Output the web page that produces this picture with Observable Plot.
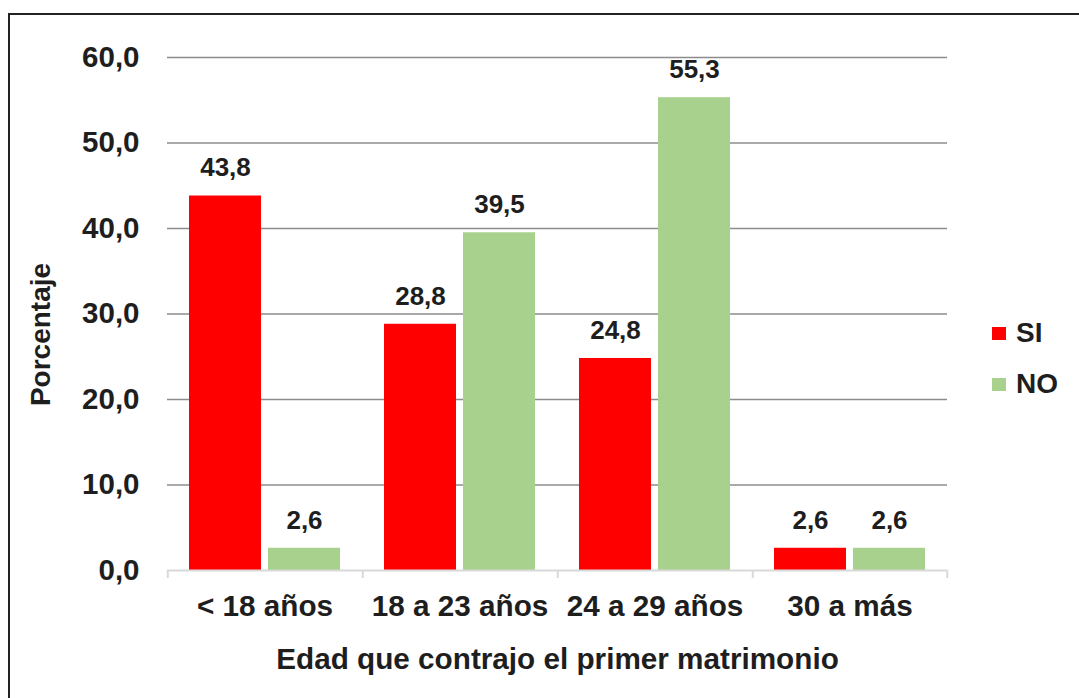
<!DOCTYPE html>
<html><head><meta charset="utf-8">
<script src="https://cdn.jsdelivr.net/npm/d3@7"></script>
<script src="https://cdn.jsdelivr.net/npm/@observablehq/plot@0.6"></script>
<style>
html,body{margin:0;padding:0;background:#fff;}
#wrap{position:relative;width:1079px;height:698px;overflow:hidden;font-family:"Liberation Sans",Arial,sans-serif;}
#border{position:absolute;left:8px;top:13px;width:1200px;height:900px;border-left:2px solid #222;border-top:2px solid #222;}
#chart{position:absolute;left:0;top:0;}
.lg{position:absolute;left:992px;display:flex;align-items:center;height:30px;font-weight:bold;font-size:28px;color:#1e1e1e;}
.sw{width:14px;height:13px;margin-right:10px;}
</style>
</head><body>
<div id="wrap"><div id="border"></div><div id="chart"></div>
<div id="legend"></div></div>
<script>
const categories = ["< 18 años", "18 a 23 años", "24 a 29 años", "30 a más"];
const series = ["SI", "NO"];
const siValues = [43.8, 28.8, 24.8, 2.6];
const noValues = [2.6, 39.5, 55.3, 2.6];
const yTicks = [0, 10, 20, 30, 40, 50, 60];
const colors = ["#FF0000", "#A9D18E"];
const yTitle = "Porcentaje";
const xTitle = "Edad que contrajo el primer matrimonio";

const fmt = d => d.toFixed(1).replace(".", ",");
const rows = categories.flatMap((c, i) => [
  {cat: c, serie: "SI", value: siValues[i]},
  {cat: c, serie: "NO", value: noValues[i]}
]);
const sepLeft = categories.map(c => ({cat: c, serie: "SI"}));
const sepRight = [{cat: categories[categories.length - 1], serie: "NO"}];

const chart = Plot.plot({
  width: 1079, height: 698,
  marginLeft: 166, marginRight: 131, marginTop: 57, marginBottom: 128,
  style: {fontFamily: "Liberation Sans, Arial, sans-serif", fontWeight: "bold", color: "#1e1e1e", background: "transparent", overflow: "visible"},
  fx: {domain: categories, padding: 0},
  x: {domain: series, paddingInner: 0.0875, paddingOuter: 0.2656, axis: null},
  y: {domain: [0, 60]},
  color: {domain: series, range: colors},
  marks: [
    Plot.gridY(yTicks.filter(d => d > 0), {stroke: "#8c8c8c", strokeOpacity: 1, strokeWidth: 1.5}),
    Plot.axisY(yTicks, {tickSize: 0, tickPadding: 28, fontSize: 29.5, tickFormat: fmt, label: null}),
    Plot.text([yTitle], {fx: () => categories[0], frameAnchor: "left", rotate: -90, dx: -126, dy: 20.5,
      fontSize: 28, fontWeight: "bold", fill: "#1e1e1e", lineAnchor: "middle", textAnchor: "middle"}),
    Plot.axisFx({anchor: "bottom", tickSize: 0, tickPadding: 24, fontSize: 29.7,
      label: xTitle, labelAnchor: "center", labelArrow: "none", labelOffset: 98}),
    Plot.barY(rows, {fx: "cat", x: "serie", y: "value", fill: "serie"}),
    Plot.ruleY([0], {stroke: "#d9d9d9", strokeWidth: 2}),
    Plot.ruleX(sepLeft, {fx: "cat", x: "serie", y1: 0, y2: 0, insetBottom: -8, dx: -57.75, stroke: "#d9d9d9", strokeWidth: 2}),
    Plot.ruleX(sepRight, {fx: "cat", x: "serie", y1: 0, y2: 0, insetBottom: -8, dx: 57.75, stroke: "#d9d9d9", strokeWidth: 2}),
    Plot.text(rows, {fx: "cat", x: "serie", y: "value", text: d => fmt(d.value), dy: -28, fontSize: 26, fontWeight: "bold", fill: "#1e1e1e"})
  ]
});
document.getElementById("chart").appendChild(chart);

const legend = document.getElementById("legend");
const legendCenters = [333, 384];
series.forEach((s, i) => {
  const row = document.createElement("div");
  row.className = "lg";
  row.style.top = (legendCenters[i] - 15) + "px";
  const sw = document.createElement("div");
  sw.className = "sw";
  sw.style.background = colors[i];
  const t = document.createElement("span");
  t.textContent = s;
  row.appendChild(sw); row.appendChild(t);
  legend.appendChild(row);
});
</script>
</body></html>
